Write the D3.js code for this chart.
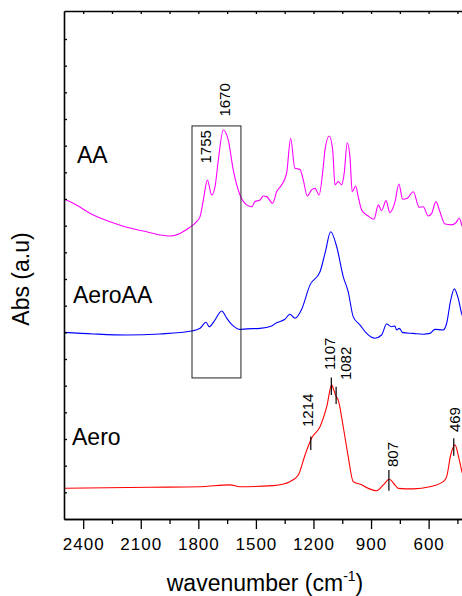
<!DOCTYPE html>
<html>
<head>
<meta charset="utf-8">
<script src="https://cdn.jsdelivr.net/npm/d3@7"></script>
<style>
  body{margin:0;background:#fff;}
  svg{font-family:"Liberation Sans",Arial,sans-serif;}
</style>
</head>
<body>
<div id="chart"></div>
<script>
// wavenumber (cm-1), absorbance (a.u., offset)
var aaData = [
  [2500,12.0],[2452,11.84],[2347,11.4],[2260,11.15],[2173,10.94],[2087,10.8],[2000,10.65],
  [1948,10.61],[1896,10.71],[1844,10.94],[1809,11.15],[1791,11.34],[1783,11.59],[1771,12.09],
  [1753,12.71],[1730,12.15],[1713,12.46],[1696,13.46],[1670,14.59],[1644,14.21],[1618,13.09],
  [1583,12.15],[1548,11.78],[1522,11.71],[1505,11.9],[1479,11.96],[1462,12.11],[1444,12.09],
  [1413,11.84],[1392,12.27],[1366,12.53],[1340,12.96],[1319,14.28],[1297,13.15],[1270,13.11],
  [1253,12.71],[1232,12.11],[1210,12.34],[1192,12.4],[1171,12.15],[1149,13.21],[1140,13.84],
  [1118,14.36],[1100,13.84],[1088,12.53],[1071,12.65],[1053,12.53],[1040,12.96],[1024,14.11],
  [1010,13.59],[998,12.27],[980,12.49],[967,12.09],[949,11.59],[915,11.36],[885,11.24],
  [862,11.78],[845,11.56],[822,11.94],[802,11.49],[775,11.9],[755,12.56],[735,11.99],
  [711,12.03],[680,12.27],[649,11.69],[628,11.71],[602,11.36],[584,11.46],[562,11.9],
  [541,11.52],[515,11.06],[480,11.03],[458,11.11],[440,11.28],[423,10.96],[400,10.9]
];

var aeroAAData = [
  [2500,7.0],[2347,6.94],[2173,6.9],[2000,6.94],[1835,7.05],[1791,7.15],[1760,7.38],
  [1743,7.21],[1719,7.4],[1678,7.8],[1652,7.53],[1618,7.24],[1583,7.11],[1548,7.13],
  [1479,7.15],[1418,7.24],[1392,7.36],[1349,7.49],[1323,7.68],[1297,7.53],[1262,7.86],
  [1218,8.78],[1166,9.27],[1140,9.96],[1110,10.77],[1079,10.21],[1045,9.09],[1019,8.52],
  [993,7.59],[958,7.28],[923,6.96],[880,6.78],[845,6.9],[819,7.31],[793,7.21],[776,7.24],
  [767,7.09],[753,7.15],[735,6.99],[680,6.96],[628,6.93],[593,6.96],[567,7.11],[524,7.09],
  [506,7.34],[485,8.21],[466,8.63],[446,8.28],[428,7.71],[400,7.3]
];

var aeroData = [
  [2500,1.15],[2052,1.19],[1791,1.21],[1635,1.28],[1583,1.21],[1410,1.25],[1357,1.31],
  [1323,1.4],[1279,1.65],[1244,2.4],[1210,3.03],[1166,3.46],[1131,4.21],[1105,5.03],
  [1095,4.85],[1082,4.6],[1071,4.46],[1045,3.46],[1019,2.34],[993,1.4],[949,1.28],
  [915,1.15],[871,1.06],[836,1.28],[805,1.49],[776,1.28],[758,1.15],[680,1.13],[593,1.21],
  [524,1.4],[506,1.59],[485,2.4],[463,2.78],[440,2.21],[426,1.77],[400,1.3]
];

var series = [
  {name:"AA", color:"#ff00ff", values:aaData},
  {name:"AeroAA", color:"#0000ff", values:aeroAAData},
  {name:"Aero", color:"#ff0000", values:aeroData}
];

var xMajorTicks = [2400,2100,1800,1500,1200,900,600];
var xMinorTicks = [2250,1950,1650,1350,1050,750,450];

// peak marks on the Aero curve: wavenumber, top, bottom
var peakMarks = [[1214,3.09,2.59],[1107,5.31,4.65],[1082,4.96,4.31],[807,1.84,1.06],[469,3.03,2.37]];
// rotated peak labels: text, wavenumber, abs of the text start
var peakLabels = [
  ["1214",1203,3.45],["1107",1088,5.59],["1082",1005,5.21],["807",760,1.95],["469",437,3.26],
  ["1755",1732,13.33],["1670",1635,15.09]
];
// box around the carbonyl region
var boxRegion = {w1:1833, w2:1578, a1:14.74, a2:5.29};

var width = 462, height = 596;
var svg = d3.select("#chart").append("svg")
  .attr("width",width)
  .attr("height",height);

var x = d3.scaleLinear().domain([2500,400]).range([64,467]);
var y = d3.scaleLinear().domain([0,19.05]).range([519,11]);

svg.append("clipPath").attr("id","plotclip")
  .append("rect").attr("x",64).attr("y",11).attr("width",403).attr("height",508);

var line = d3.line()
  .x(function(d){ return x(d[0]); })
  .y(function(d){ return y(d[1]); })
  .curve(d3.curveMonotoneX);

var plot = svg.append("g").attr("clip-path","url(#plotclip)");

plot.selectAll("path.spectrum")
  .data(series)
  .enter()
  .append("path")
  .attr("class","spectrum")
  .attr("fill","none")
  .attr("stroke",function(d){ return d.color; })
  .attr("stroke-width",1.1)
  .attr("d",function(d){ return line(d.values); });

// box
plot.append("rect")
  .attr("x",x(boxRegion.w1))
  .attr("y",y(boxRegion.a1))
  .attr("width",x(boxRegion.w2)-x(boxRegion.w1))
  .attr("height",y(boxRegion.a2)-y(boxRegion.a1))
  .attr("fill","none")
  .attr("stroke","#222")
  .attr("stroke-width",1);

// peak marks
plot.selectAll("line.mark")
  .data(peakMarks)
  .enter()
  .append("line")
  .attr("class","mark")
  .attr("x1",function(d){ return x(d[0]); })
  .attr("x2",function(d){ return x(d[0]); })
  .attr("y1",function(d){ return y(d[1]); })
  .attr("y2",function(d){ return y(d[2]); })
  .attr("stroke","#000")
  .attr("stroke-width",1.2);

svg.selectAll("text.peak")
  .data(peakLabels)
  .enter()
  .append("text")
  .attr("class","peak")
  .attr("transform",function(d){ return "translate(" + x(d[1]) + "," + y(d[2]) + ") rotate(-90)"; })
  .attr("text-anchor","start")
  .style("font-size","15px")
  .style("fill","#000")
  .text(function(d){ return d[0]; });

// axes
var bottom = svg.append("g")
  .attr("transform","translate(0,519)")
  .call(d3.axisBottom(x).tickValues(xMajorTicks).tickSize(10).tickSizeOuter(0).tickPadding(9).tickFormat(d3.format("d")));
bottom.selectAll("text").style("font-size","17px").style("letter-spacing","1px").attr("fill","#000");

svg.append("g")
  .attr("transform","translate(0,519)")
  .call(d3.axisBottom(x).tickValues(xMinorTicks).tickSize(5).tickSizeOuter(0).tickFormat(""));

svg.append("g")
  .attr("transform","translate(0,11)")
  .call(d3.axisTop(x).tickValues(xMajorTicks.concat(xMinorTicks)).tickSize(-3).tickSizeOuter(0).tickFormat(""));

svg.append("g")
  .attr("transform","translate(64,0)")
  .call(d3.axisLeft(y).tickValues(d3.range(1,19)).tickSize(-3).tickSizeOuter(0).tickFormat(""));

svg.selectAll(".domain").attr("stroke","#000").attr("stroke-width",1.6);
svg.selectAll(".tick line").attr("stroke","#000").attr("stroke-width",1.3);

// series names
var names = [["AA",77,163],["AeroAA",73,303],["Aero",72,445]];
svg.selectAll("text.name")
  .data(names)
  .enter()
  .append("text")
  .attr("class","name")
  .attr("x",function(d){ return d[1]; })
  .attr("y",function(d){ return d[2]; })
  .style("font-size","23px")
  .style("fill","#000")
  .text(function(d){ return d[0]; });

// axis titles
svg.append("text")
  .attr("transform","translate(29,279) rotate(-90)")
  .attr("text-anchor","middle")
  .style("font-size","23px")
  .text("Abs (a.u)");

var xt = svg.append("text")
  .attr("x",265)
  .attr("y",591)
  .attr("text-anchor","middle")
  .style("font-size","23px");
xt.append("tspan").text("wavenumber (cm");
xt.append("tspan").attr("dy",-10).style("font-size","14px").text("-1");
xt.append("tspan").attr("dy",10).text(")");
</script>
</body>
</html>
